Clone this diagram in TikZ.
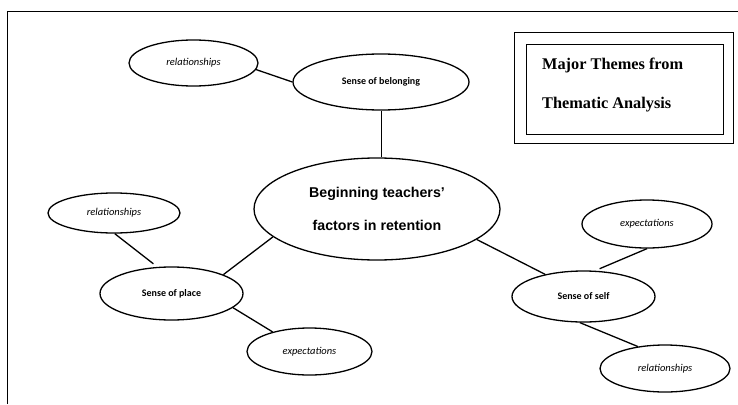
\documentclass[tikz,border=0pt]{standalone}
\usepackage{fontspec}
\setmainfont{Carlito}
\newfontfamily\arialfont{Liberation Sans}
\newfontfamily\timesfont{Liberation Serif}
\usetikzlibrary{shapes.geometric}
\begin{document}
\begin{tikzpicture}[x=1pt,y=-1pt,
  oval/.style={ellipse, draw, line width=1.3pt, inner sep=0pt},
  sub/.style={oval, font=\fontsize{10.5}{12}\selectfont\itshape},
  theme/.style={oval, font=\fontsize{10}{12}\selectfont\bfseries},
  link/.style={line width=1.3pt},
  titlebox/.style={draw, line width=1pt, inner sep=0pt},
  titletext/.style={font=\timesfont\bfseries\fontsize{16.3}{19}\selectfont, anchor=base west, inner sep=0pt}]
\useasboundingbox (0,0) rectangle (738,404);
\draw[line width=1pt] (7,404) -- (7,12) -- (738,12);
% title box
\node[titlebox, minimum width=219, minimum height=110] (outer) at (623.5,88) {};
\node[titlebox, minimum width=197, minimum height=89] (inner) at (624.5,89.5) {};
\node[titletext] (t1) at (542,70) {Major Themes from};
\node[titletext] (t2) at (542,108) {Thematic Analysis};
% central
\node[oval, minimum width=246, minimum height=102, align=center,
  font=\arialfont\bfseries\fontsize{14.2}{33}\selectfont] (cen) at (377,209)
  {Beginning teachers’\\factors in retention};
% themes
\node[theme, minimum width=176, minimum height=56] (bel) at (381,82) {Sense of belonging};
\node[theme, minimum width=143, minimum height=53] (place) at (171.5,293.5) {Sense of place};
\node[theme, minimum width=143, minimum height=51] (self) at (583.5,296.5) {Sense of self};
% sub themes
\node[sub, minimum width=129, minimum height=46] (rel1) at (193.5,63) {relationships};
\node[sub, minimum width=132, minimum height=40] (relL) at (114,213) {relationships};
\node[sub, minimum width=125, minimum height=47] (expL) at (309.5,351.5) {expectations};
\node[sub, minimum width=130, minimum height=48] (expR) at (647,224) {expectations};
\node[sub, minimum width=130, minimum height=47] (relR) at (665,368.5) {relationships};
% connectors
\draw[link] (rel1.-6) -- (bel.180);
\draw[link, line width=1pt] (bel.south) -- (bel.south |- cen.north);
\draw[link] (cen.195) -- (place.20);
\draw[link, shorten >=5pt] (relL.-88) -- (place.118);
\draw[link] (place.-13) -- (expL.152);
\draw[link] (cen.-17) -- (self.150);
\draw[link, shorten >=5pt] (expR.south) -- (self.66);
\draw[link] (self.262) -- (relR.141);
\end{tikzpicture}
\end{document}
